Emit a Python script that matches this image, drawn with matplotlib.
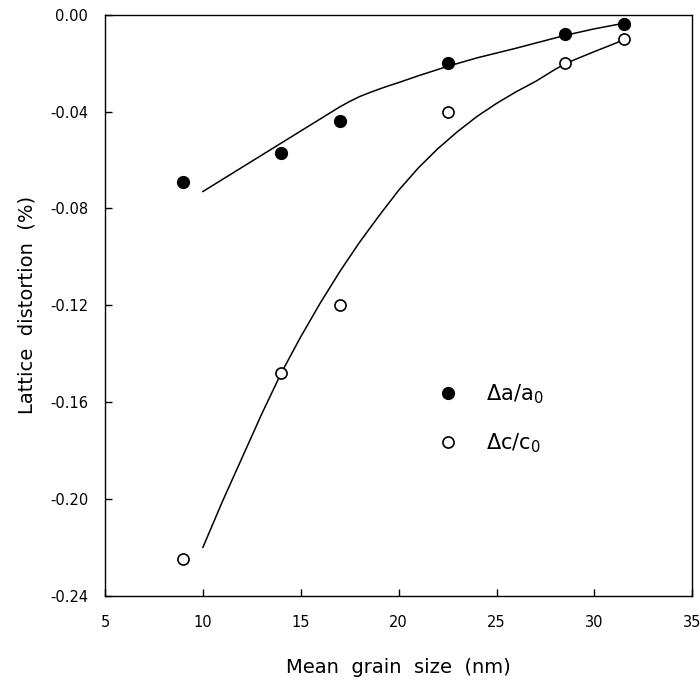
import numpy as np
import matplotlib
matplotlib.use('Agg')
import matplotlib.pyplot as plt

plt.rcParams['font.family'] = ['DejaVu Sans']
plt.rcParams['axes.unicode_minus'] = False

# grain size (nm) and measured distortion (%)
size_a = [9, 14, 17, 22.5, 28.5, 31.5]
da = [-0.069, -0.057, -0.044, -0.020, -0.008, -0.004]
size_c = [9, 14, 17, 22.5, 28.5, 31.5]
dc = [-0.225, -0.148, -0.120, -0.040, -0.020, -0.010]

# fitted curves
fit_a_x = [10, 11, 12, 13, 14, 15, 16, 16.5, 17, 17.5, 18, 18.5, 19, 19.5, 20, 21,
           22.5, 24, 26, 28.5, 30, 31.5]
fit_a_y = [-0.073, -0.068, -0.063, -0.058, -0.053, -0.048, -0.043, -0.0405, -0.038,
           -0.0358, -0.0338, -0.0322, -0.0307, -0.0293, -0.028, -0.0252, -0.0213,
           -0.0178, -0.0138, -0.0085, -0.0058, -0.0035]
fit_c_x = [10, 11, 12, 13, 14, 15, 16, 17, 18, 19, 20, 21, 22, 23, 24, 25, 26, 27,
           28, 28.5, 29, 30, 31, 31.5]
fit_c_y = [-0.220, -0.201, -0.183, -0.165, -0.148, -0.133, -0.119, -0.106, -0.094,
           -0.083, -0.0725, -0.0633, -0.0553, -0.0483, -0.0420, -0.0366, -0.0318,
           -0.0275, -0.0225, -0.0203, -0.0185, -0.0152, -0.0120, -0.0103]

xticks = [5, 10, 15, 20, 25, 30, 35]
yticks = [0.00, -0.04, -0.08, -0.12, -0.16, -0.20, -0.24]

fig = plt.figure(figsize=(7, 6.88), dpi=100)
ax = fig.add_axes([0.15, 0.134, 0.839, 0.8445])

ax.plot(fit_a_x, fit_a_y, color='black', lw=1.1)
ax.plot(fit_c_x, fit_c_y, color='black', lw=1.1)
ax.plot(size_a, da, 'o', color='black', ms=8.5, ls='none', label=r'$\Delta$a/a$_0$')
ax.plot(size_c, dc, 'o', mfc='white', mec='black', mew=1.2, ms=8, ls='none',
        label=r'$\Delta$c/c$_0$')

ax.set_xlim(5, 35)
ax.set_ylim(-0.24, 0.0)
ax.set_xticks(xticks)
ax.set_yticks(yticks)
ax.set_yticklabels(['%.2f' % v for v in yticks])
ax.tick_params(direction='in', length=5, width=1, labelsize=10.5)
ax.tick_params(axis='x', pad=14)
ax.tick_params(axis='y', pad=12)
for s in ax.spines.values():
    s.set_linewidth(1.0)

ax.set_xlabel('Mean  grain  size  (nm)', fontsize=14, labelpad=20)
ax.set_ylabel('Lattice  distortion  (%)', fontsize=14, labelpad=10)

ax.legend(loc='center left', bbox_to_anchor=(0.567, 0.305), frameon=False,
          fontsize=15, handlelength=1.0, handletextpad=1.3, labelspacing=1.2,
          borderpad=0, borderaxespad=0)

fig.savefig('out.png', dpi=100)
